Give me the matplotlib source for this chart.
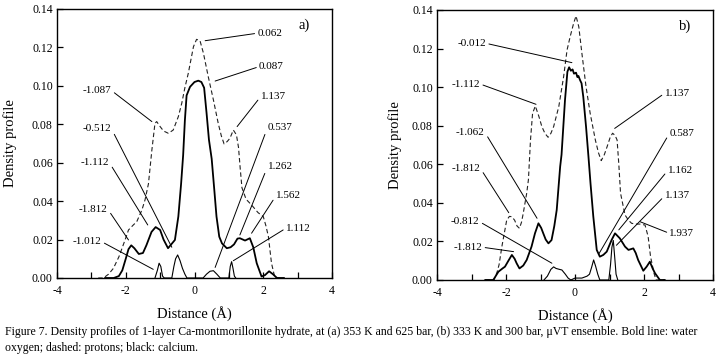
import matplotlib
matplotlib.use('Agg')
import matplotlib.pyplot as plt
from matplotlib.ticker import MultipleLocator, FormatStrFormatter

plt.rcParams['font.family'] = ['Liberation Serif', 'DejaVu Serif']

# ---- panel a) : 353 K, 625 bar ----
xa_oxy = [-2.6, -2.35, -2.2, -2.1, -2.0, -1.92, -1.84, -1.75, -1.62, -1.5, -1.4, -1.25, -1.13,
          -1.0, -0.9, -0.77, -0.7, -0.57, -0.47, -0.39, -0.33, -0.28, -0.23, -0.13, 0.0, 0.11,
          0.2, 0.28, 0.35, 0.42, 0.5, 0.58, 0.64, 0.72, 0.8, 0.94, 1.05, 1.15, 1.25, 1.32, 1.47,
          1.61, 1.71, 1.81, 1.95, 2.05, 2.17, 2.28, 2.4, 2.6]
ya_oxy = [0, 0, 0.001, 0.004, 0.010, 0.015, 0.017, 0.0155, 0.0125, 0.013, 0.017, 0.024, 0.0265,
          0.025, 0.02, 0.0155, 0.017, 0.0198, 0.032, 0.049, 0.064, 0.082, 0.095, 0.0995, 0.102, 0.1027,
          0.102, 0.099, 0.086, 0.072, 0.062, 0.045, 0.032, 0.0215, 0.018, 0.0155, 0.016, 0.0175,
          0.0205, 0.0207, 0.0195, 0.0207, 0.016, 0.0077, 0.0008, 0.0015, 0.0035, 0.002, 0, 0]

xa_ca = [-1.15, -1.08, -1.03, -0.98, -0.93, -0.88, -0.66, -0.6, -0.55, -0.49, -0.42, -0.35,
         -0.28, -0.22, 0.25, 0.35, 0.45, 0.55, 0.65, 0.75, 1.0, 1.04, 1.08, 1.12, 1.16, 1.2]
ya_ca = [0, 0.004, 0.0077, 0.006, 0.001, 0, 0, 0.006, 0.010, 0.012, 0.009, 0.005,
         0.002, 0, 0, 0.002, 0.0035, 0.0038, 0.002, 0, 0, 0.006, 0.0085, 0.005, 0.001, 0]

xa_h = [-2.8, -2.65, -2.5, -2.36, -2.2, -2.02, -1.92, -1.78, -1.68, -1.53, -1.44, -1.34, -1.24,
        -1.15, -1.1, -1.0, -0.9, -0.76, -0.62, -0.47, -0.37, -0.28, -0.18, -0.1, -0.03, 0.06,
        0.16, 0.26, 0.4, 0.55, 0.69, 0.78, 0.86, 0.95, 1.03, 1.13, 1.22, 1.28, 1.33, 1.38, 1.5,
        1.66, 1.85, 2.0, 2.08, 2.15, 2.24, 2.34, 2.5]
ya_h = [0, 0, 0.002, 0.005, 0.011, 0.0198, 0.025, 0.0276, 0.0293, 0.0354, 0.0406, 0.049, 0.0666,
        0.0805, 0.0814, 0.0788, 0.0765, 0.0753, 0.077, 0.084, 0.091, 0.099, 0.1066, 0.114, 0.1204,
        0.1242, 0.1235, 0.117, 0.1048, 0.0927, 0.0805, 0.074, 0.0698, 0.071, 0.0727, 0.077,
        0.0745, 0.068, 0.057, 0.047, 0.041, 0.038, 0.034, 0.032, 0.027, 0.0215, 0.0077, 0, 0]

labels_a = ['0.062', '0.087', '-1.087', '1.137', '-0.512', '0.537', '-1.112', '1.262',
            '-1.812', '1.562', '-1.012', '1.112']
targets_a = [(0.31, 0.1235), (0.60, 0.1025), (-1.24, 0.0814), (1.24, 0.0788), (-0.66, 0.016),
             (0.6, 0.0055), (-1.36, 0.0276), (1.32, 0.0224), (-1.92, 0.0198), (1.66, 0.0233),
             (-1.2, 0.0045), (1.13, 0.009)]
textpos_a = [(2.19, 0.1274), (2.24, 0.110), (-2.83, 0.0975), (2.29, 0.0944), (-2.83, 0.0776),
             (2.49, 0.0785), (-2.89, 0.060), (2.49, 0.058), (-2.94, 0.0358), (2.73, 0.0427),
             (-3.12, 0.0189), (3.02, 0.0259)]

# ---- panel b) : 333 K, 300 bar ----
xb_oxy = [-2.6, -2.37, -2.3, -2.22, -2.1, -2.03, -1.93, -1.83, -1.75, -1.69, -1.61, -1.5, -1.4,
          -1.26, -1.16, -1.06, -0.98, -0.92, -0.85, -0.77, -0.68, -0.6, -0.53, -0.43, -0.39,
          -0.29, -0.22, -0.17, -0.12, -0.07, -0.03, 0.03, 0.07, 0.1, 0.15, 0.19, 0.24, 0.32,
          0.39, 0.45, 0.53, 0.63, 0.72, 0.82, 0.92, 1.06, 1.16, 1.3, 1.45, 1.55, 1.62, 1.69,
          1.76, 1.83, 1.98, 2.08, 2.17, 2.25, 2.32, 2.46, 2.6]
yb_oxy = [0, 0, 0.002, 0.0043, 0.006, 0.0069, 0.010, 0.013, 0.011, 0.0086, 0.006, 0.0075, 0.0104,
          0.0173, 0.0242, 0.0294, 0.027, 0.0242, 0.021, 0.019, 0.0207, 0.028, 0.0363, 0.0588, 0.065,
          0.0933, 0.108, 0.1103, 0.1085, 0.1092, 0.107, 0.1075, 0.1052, 0.1058, 0.1035, 0.102, 0.095,
          0.0795, 0.064, 0.05, 0.033, 0.0156, 0.0121, 0.013, 0.0147, 0.0207, 0.0242, 0.0216,
          0.0173, 0.0156, 0.016, 0.0164, 0.014, 0.0104, 0.0048, 0.007, 0.0095, 0.006, 0.0035, 0, 0]

xb_ca = [-0.9, -0.8, -0.7, -0.62, -0.55, -0.45, -0.38, -0.28, -0.2, -0.12, 0.0, 0.2, 0.35,
         0.42, 0.48, 0.54, 0.6, 0.66, 0.72, 0.98, 1.03, 1.07, 1.11, 1.15, 1.19, 1.24]
yb_ca = [0, 0.002, 0.0055, 0.0068, 0.006, 0.0055, 0.0052, 0.003, 0.001, 0, 0.001, 0.001, 0.002,
         0.003, 0.0065, 0.0104, 0.007, 0.003, 0, 0, 0.008, 0.017, 0.0205, 0.012, 0.003, 0]

xb_h = [-2.6, -2.35, -2.26, -2.2, -2.12, -1.98, -1.9, -1.83, -1.75, -1.68, -1.61, -1.55, -1.5,
        -1.4, -1.35, -1.29, -1.23, -1.15, -1.05, -0.96, -0.87, -0.78, -0.7, -0.62, -0.47, -0.33,
        -0.23, -0.14, -0.04, 0.03, 0.11, 0.2, 0.32, 0.44, 0.59, 0.68, 0.76, 0.85, 0.93, 1.02,
        1.09, 1.16, 1.22, 1.27, 1.32, 1.4, 1.45, 1.55, 1.64, 1.76, 1.88, 2.03, 2.12, 2.19, 2.29,
        2.35, 2.6]
yb_h = [0, 0, 0.004, 0.008, 0.0173, 0.031, 0.033, 0.0328, 0.031, 0.028, 0.0268, 0.03, 0.0346,
        0.045, 0.052, 0.0726, 0.0864, 0.0902, 0.085, 0.0795, 0.076, 0.074, 0.076, 0.0795, 0.0899,
        0.1054, 0.1193, 0.1262, 0.1331, 0.1369, 0.1313, 0.1175, 0.1002, 0.0864, 0.0726, 0.066,
        0.0619, 0.065, 0.0691, 0.074, 0.0761, 0.075, 0.0726, 0.060, 0.045, 0.038, 0.0337, 0.031,
        0.0294, 0.029, 0.029, 0.0285, 0.0225, 0.0121, 0.0035, 0, 0]

labels_b = ['-0.012', '-1.112', '1.137', '-1.062', '0.587', '-1.812', '1.162', '1.137',
            '1.937', '-0.812', '-1.812']
targets_b = [(-0.09, 0.1127), (-1.13, 0.0911), (1.15, 0.0786), (-1.1, 0.032), (0.69, 0.0135),
             (-1.92, 0.0349), (1.27, 0.026), (1.2, 0.018), (1.89, 0.0302), (-0.67, 0.0087),
             (-1.78, 0.0147)]
textpos_b = [(-2.99, 0.1227), (-3.16, 0.1016), (2.96, 0.0968), (-3.03, 0.0766), (3.1, 0.0761),
             (-3.16, 0.0579), (3.05, 0.0567), (2.96, 0.0436), (3.1, 0.0242), (-3.18, 0.0302),
             (-3.1, 0.017)]

caption = ("Figure 7. Density profiles of 1-layer Ca-montmorillonite hydrate, at (a) 353 K and 625 bar, "
           "(b) 333 K and 300 bar, \u03bcVT ensemble. Bold line: water\n"
           "oxygen; dashed: protons; black: calcium.")


def draw_panel(ax, x_oxy, y_oxy, x_ca, y_ca, x_h, y_h, labels, targets, textpos, tag):
    ax.plot(x_h, y_h, color='#222222', lw=0.8, linestyle=(0, (4, 2.5)))
    ax.plot(x_ca, y_ca, color='black', lw=0.8)
    ax.plot(x_oxy, y_oxy, color='black', lw=1.3)

    for lab, tgt, pos in zip(labels, targets, textpos):
        rel = (1, 0.5) if pos[0] < tgt[0] else (0, 0.5)
        ax.annotate(lab, xy=tgt, xytext=pos, ha='center', va='center', fontsize=8,
                    arrowprops=dict(arrowstyle='-', lw=0.7, color='black', relpos=rel,
                                    shrinkA=0, shrinkB=0))

    ax.text(0.9, 0.94, tag, transform=ax.transAxes, fontsize=10.5, ha='center', va='center')

    ax.set_xlim(-4, 4)
    ax.set_ylim(0, 0.14)
    ax.xaxis.set_major_locator(MultipleLocator(2))
    ax.xaxis.set_minor_locator(MultipleLocator(1))
    ax.yaxis.set_major_locator(MultipleLocator(0.02))
    ax.yaxis.set_major_formatter(FormatStrFormatter('%.2f'))
    ax.xaxis.set_major_formatter(FormatStrFormatter('%d'))
    ax.tick_params(axis='both', which='both', direction='in', length=4, width=0.9,
                   top=False, right=False, labelsize=8.5)
    ax.tick_params(axis='x', pad=5)
    ax.tick_params(axis='y', pad=3)
    for sp in ax.spines.values():
        sp.set_linewidth(1.0)
    ax.set_xlabel('Distance (\u00c5)', fontsize=10.5)
    ax.set_ylabel('Density profile', fontsize=10.5)


fig = plt.figure(figsize=(7.24, 3.63), dpi=100)
ax_a = fig.add_axes([57 / 724, 1 - 278 / 363, 275 / 724, 269 / 363])
ax_b = fig.add_axes([437 / 724, 1 - 280 / 363, 276 / 724, 270 / 363])

draw_panel(ax_a, xa_oxy, ya_oxy, xa_ca, ya_ca, xa_h, ya_h, labels_a, targets_a, textpos_a, 'a)')
draw_panel(ax_b, xb_oxy, yb_oxy, xb_ca, yb_ca, xb_h, yb_h, labels_b, targets_b, textpos_b, 'b)')

ax_a.yaxis.set_label_coords(-0.145, 0.5)
ax_b.yaxis.set_label_coords(-0.127, 0.5)
ax_a.xaxis.set_label_coords(0.5, -0.105)
ax_b.xaxis.set_label_coords(0.5, -0.105)

fig.text(5 / 724, 1 - 326 / 363, caption, fontsize=8.5, ha='left', va='top', linespacing=1.45)

fig.savefig('out.png', dpi=100)
